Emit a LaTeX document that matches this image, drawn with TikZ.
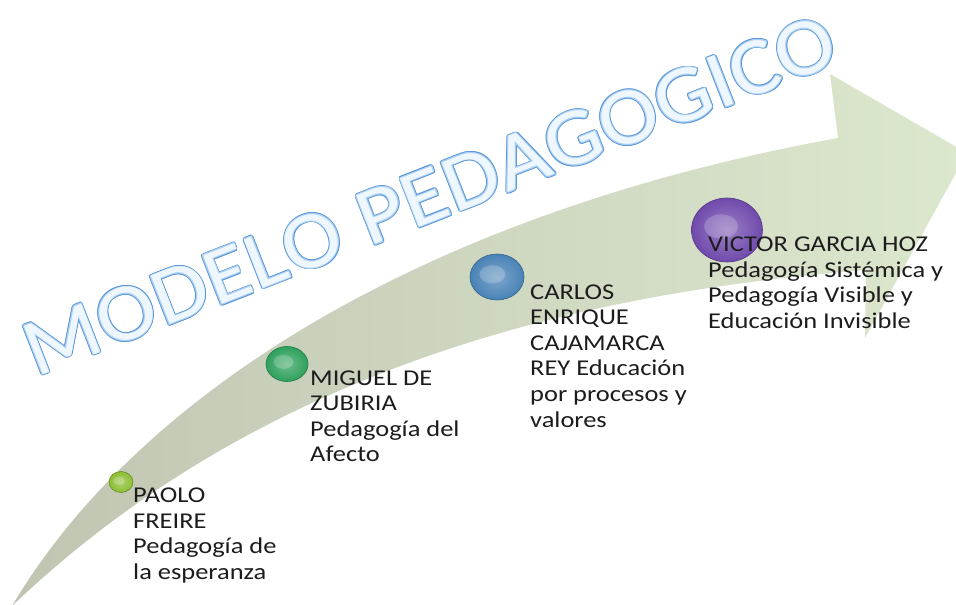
\documentclass[tikz,border=0pt]{standalone}
\usepackage{fontspec}
\setmainfont{Carlito}
\newfontfamily\lblfont[FakeStretch=1.17]{Carlito}
\newfontfamily\ttlfont[FakeStretch=1.1]{Carlito}
\usetikzlibrary{decorations.text,shapes.geometric}
\definecolor{arrowL}{RGB}{192,197,178}
\definecolor{arrowM}{RGB}{207,216,192}
\definecolor{arrowR}{RGB}{220,232,206}
\definecolor{ttlOut}{RGB}{92,152,216}
\definecolor{ttlMid}{RGB}{170,207,242}
\definecolor{ttlIn}{RGB}{238,246,254}
\definecolor{lblcol}{RGB}{28,28,28}
\definecolor{dotlime}{RGB}{140,190,50}
\definecolor{dotgreen}{RGB}{46,160,92}
\definecolor{dotblue}{RGB}{72,130,182}
\definecolor{dotpurple}{RGB}{112,74,172}
\newcommand\ttlsize{\ttlfont\fontsize{81}{88}\selectfont}
\tikzset{
  btn/.style={ellipse, inner sep=0pt, draw=#1!75!black, line width=0.6pt,
    inner color=#1!70!white, outer color=#1},
  lbl/.style={anchor=base west, align=left, inner sep=0pt, text=lblcol,
    font=\lblfont\fontsize{22.6}{25.6}\selectfont},
  ttlpath/.style={decorate, decoration={text along path, text color=#1,
    text align=fit to path, text={|\ttlsize|MODELO PEDAGOGICO}}}
}
\begin{document}
\begin{tikzpicture}[x=1pt,y=-1pt]
\useasboundingbox (0,0) rectangle (956,605);
\clip (0,0) rectangle (956,605);
% big curved arrow
\shade[left color=arrowL, middle color=arrowM, right color=arrowR]
  (12,606) .. controls (140,390) and (430,212) .. (838,138)
  -- (830,74) -- (967,153) -- (865,338) -- (866,270)
  .. controls (620,290) and (280,350) .. (12,606) -- cycle;
% title, outline by shifted copies
\foreach \a in {0,30,...,330} {
  \begin{scope}[shift={(\a:1.7)}]
    \path[ttlpath=ttlOut] (36,377) -- (842,62);
  \end{scope}
}
\foreach \a in {0,45,...,315} {
  \begin{scope}[shift={(\a:0.8)}]
    \path[ttlpath=ttlMid] (36,377) -- (842,62);
  \end{scope}
}
\path[ttlpath=ttlIn] (36,377) -- (842,62);
% buttons
\node[btn=dotlime, minimum width=24pt, minimum height=21pt] (d1) at (121,482) {};
\node[btn=dotgreen, minimum width=42pt, minimum height=35pt] (d2) at (287,364) {};
\node[btn=dotblue, minimum width=54pt, minimum height=46pt] (d3) at (497,277) {};
\node[btn=dotpurple, minimum width=71pt, minimum height=64pt] (d4) at (727,230) {};
\foreach \n/\rx/\ry in {d1/6/4, d2/10/7, d3/13/9, d4/17/12} {
  \fill[white, opacity=0.2] ([xshift=-0.35*\rx pt, yshift=0.3*\ry pt]\n.center) ellipse [x radius=\rx, y radius=\ry];
}
% labels (base anchor = baseline of the last line)
\node[lbl] (l1) at (133,579.3) {PAOLO\\FREIRE\\Pedagogía de\\la esperanza};
\node[lbl] (l2) at (310,461.8) {MIGUEL DE\\ZUBIRIA\\Pedagogía del\\Afecto};
\node[lbl] (l3) at (530,427) {CARLOS\\ENRIQUE\\CAJAMARCA\\REY Educación\\por procesos y\\valores};
\node[lbl] (l4) at (708,328.3) {VICTOR GARCIA HOZ\\Pedagogía Sistémica y\\Pedagogía Visible y\\Educación Invisible};
\end{tikzpicture}
\end{document}
